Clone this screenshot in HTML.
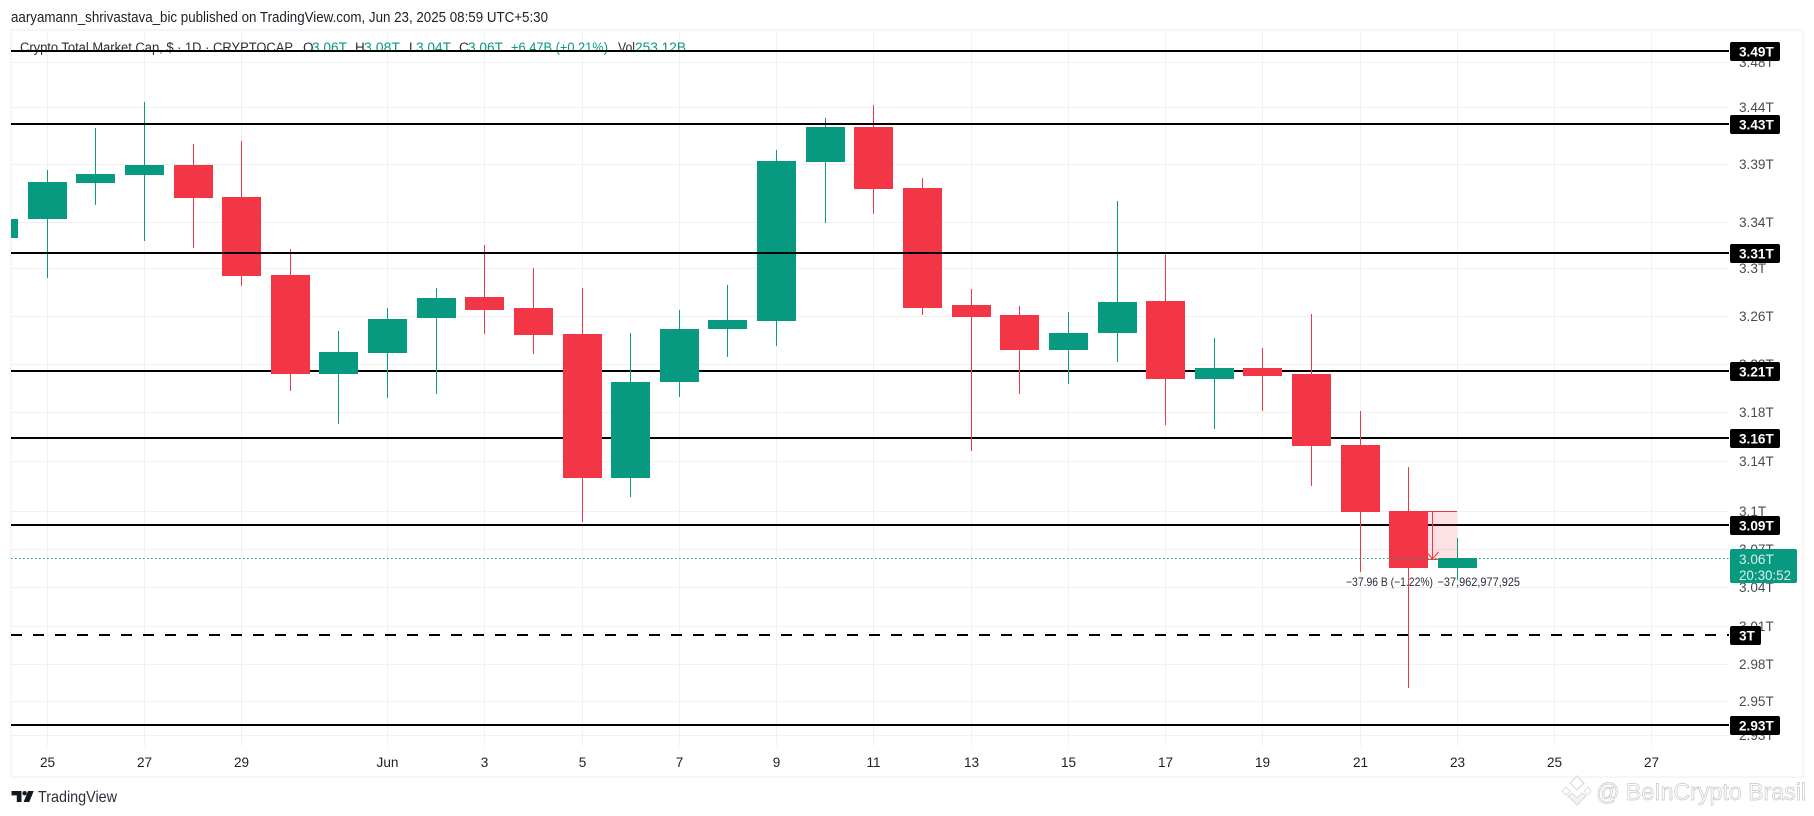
<!DOCTYPE html>
<html lang="en">
<head>
<meta charset="utf-8">
<title>Crypto Total Market Cap chart</title>
<style>
html,body{margin:0;padding:0;background:#fff;width:1814px;height:816px;overflow:hidden}
svg{display:block;font-family:"Liberation Sans",sans-serif}
</style>
</head>
<body>
<svg id="chart" xmlns="http://www.w3.org/2000/svg" width="1814" height="816" viewBox="0 0 1814 816">
  <defs><clipPath id="pane-clip"><rect x="11" y="30" width="1718" height="716"/></clipPath></defs>
  <rect x="0" y="0" width="1814" height="816" fill="#ffffff"/>
  <text x="11" y="22" font-size="14.5" fill="#1c1f28" textLength="537" lengthAdjust="spacingAndGlyphs">aaryamann_shrivastava_bic published on TradingView.com, Jun 23, 2025 08:59 UTC+5:30</text>
  <rect x="11" y="30" width="1792" height="747" fill="none" stroke="#f3f4f6" stroke-width="1.5"/>
  <g id="grid"></g>
  <g id="lower-levels"></g>
  <g id="measure"></g>
  <g id="candles" clip-path="url(#pane-clip)"></g>
  <g id="legend" font-size="13.5">
    <text x="20" y="52" fill="#2a2e39" textLength="273" lengthAdjust="spacingAndGlyphs">Crypto Total Market Cap, $ · 1D · CRYPTOCAP</text>
    <text x="303" y="52" fill="#2a2e39">O</text>
    <text x="312" y="52" fill="#089981" textLength="35" lengthAdjust="spacingAndGlyphs">3.06T</text>
    <text x="355" y="52" fill="#2a2e39">H</text>
    <text x="364" y="52" fill="#089981" textLength="36" lengthAdjust="spacingAndGlyphs">3.08T</text>
    <text x="409" y="52" fill="#2a2e39">L</text>
    <text x="416" y="52" fill="#089981" textLength="35" lengthAdjust="spacingAndGlyphs">3.04T</text>
    <text x="459" y="52" fill="#2a2e39">C</text>
    <text x="468" y="52" fill="#089981" textLength="35" lengthAdjust="spacingAndGlyphs">3.06T</text>
    <text x="511" y="52" fill="#089981" textLength="97" lengthAdjust="spacingAndGlyphs">+6.47B (+0.21%)</text>
    <text x="618" y="52" fill="#2a2e39" textLength="17" lengthAdjust="spacingAndGlyphs">Vol</text>
    <text x="635" y="52" fill="#089981" textLength="51" lengthAdjust="spacingAndGlyphs">253.12B</text>
  </g>
  <g id="upper-levels"></g>
  <g id="axis-y"></g>
  <g id="axis-x"></g>
  <g id="tags"></g>
  <g>
    <path fill="#131722" d="M11.5 791h10v11h-4.7v-6.6h-5.3z"/>
    <circle cx="24.6" cy="793.2" r="2.2" fill="#131722"/>
    <path fill="#131722" d="M28 791h5.7l-4.4 11h-5.7z"/>
    <text x="38" y="802" font-size="16" fill="#2a2e39" textLength="79" lengthAdjust="spacingAndGlyphs">TradingView</text>
  </g>
  <g>
    <path d="M1577 776l7 7-7 7-7-7z" fill="#fff" stroke="#d9d9d9" stroke-width="1.2"/>
    <path d="M1566 787l4 4-4 4-4-4z" fill="#fff" stroke="#dddddd" stroke-width="1"/>
    <path d="M1588 787l3 4-3 4-4-4z" fill="#fff" stroke="#dddddd" stroke-width="1"/>
    <path d="M1577 805l-9-9 4-3 5 5 5-5 4 3z" fill="#f3f3f3" stroke="#d9d9d9" stroke-width="1"/>
    <text x="1596" y="800" font-size="24" fill="#ffffff" stroke="#c6c6c6" stroke-width="0.7" textLength="210" lengthAdjust="spacingAndGlyphs">@ BeInCrypto Brasil</text>
  </g>
</svg>
<script>
// ---- chart data (values in trillions USD) ----
const dates = ['May 24','May 25','May 26','May 27','May 28','May 29','May 30','May 31','Jun 1','Jun 2','Jun 3','Jun 4','Jun 5','Jun 6','Jun 7','Jun 8','Jun 9','Jun 10','Jun 11','Jun 12','Jun 13','Jun 14','Jun 15','Jun 16','Jun 17','Jun 18','Jun 19','Jun 20','Jun 21','Jun 22','Jun 23'];
const opens = [3.3259,3.3423,3.3734,3.3804,3.3890,3.3612,3.2944,3.2115,3.2288,3.2581,3.2757,3.2665,3.2446,3.1266,3.2049,3.2488,3.2556,3.3917,3.4224,3.3690,3.2690,3.2606,3.2313,3.2455,3.2724,3.2074,3.2164,3.2115,3.1533,3.1001,3.0550];
const closes = [3.3423,3.3743,3.3812,3.3890,3.3603,3.2935,3.2115,3.2296,3.2572,3.2748,3.2648,3.2438,3.1266,3.2049,3.2488,3.2564,3.3925,3.4224,3.3682,3.2665,3.2589,3.2313,3.2455,3.2715,3.2074,3.2164,3.2098,3.1525,3.0993,3.0550,3.0628];
const highs = [3.3423,3.3847,3.4215,3.4444,3.4074,3.4100,3.3165,3.2472,3.2665,3.2833,3.3199,3.3003,3.2833,3.2455,3.2648,3.2858,3.4021,3.4303,3.4418,3.3777,3.2825,3.2682,3.2631,3.3577,3.3114,3.2413,3.2330,3.2614,3.1810,3.1355,3.0787];
const lows = [3.3259,3.2918,3.3543,3.3233,3.3173,3.2850,3.1974,3.1704,3.1917,3.1950,3.2446,3.2280,3.0914,3.1113,3.1925,3.2255,3.2346,3.3388,3.3466,3.2606,3.1484,3.1950,3.2032,3.2214,3.1696,3.1663,3.1810,3.1202,3.0518,2.9618,3.0455];
const firstCandleIndex = -1;
const priceTickValues = [3.48,3.44,3.39,3.34,3.30,3.26,3.22,3.18,3.14,3.10,3.07,3.04,3.01,2.98,2.952,2.926];
const priceTickLabels = ['3.48T','3.44T','3.39T','3.34T','3.3T','3.26T','3.22T','3.18T','3.14T','3.1T','3.07T','3.04T','3.01T','2.98T','2.95T','2.93T'];
const timeTickIndexes = [0,2,4,7,9,11,13,15,17,19,21,23,25,27,29,31,33];
const timeTickLabels = ['25','27','29','Jun','3','5','7','9','11','13','15','17','19','21','23','25','27'];
const levelValues = [3.4900,3.4250,3.3130,3.2140,3.1590,3.0890,3.0027,2.9337];
const levelLabels = ['3.49T','3.43T','3.31T','3.21T','3.16T','3.09T','3T','2.93T'];
const levelAboveCandles = [true,true,true,false,false,false,false,false];
const levelDashed = [false,false,false,false,false,false,true,false];
const currentPrice = 3.0628;
const currentLabel = '3.06T';
const countdownLabel = '20:30:52';
const measureFrom = 3.1001;
const measureTo = 3.0620;
const measureStartIndex = 28;
const measureEndIndex = 29;
const measureLabels = ['\u221237.96 B (\u22121.22%)','\u221237,962,977,925'];

// ---- axis functions ----
function xOf(i){ return Math.floor(47.22 + 48.627 * i); }
function yOf(v){ return Math.round(587 - 3883 * Math.log(v / 3.04)); }

const NS = 'http://www.w3.org/2000/svg';
function make(tag, parent, attrs){
  const el = document.createElementNS(NS, tag);
  for (const k in attrs) el.setAttribute(k, attrs[k]);
  parent.appendChild(el);
  return el;
}
const gGrid = document.getElementById('grid');
const gLower = document.getElementById('lower-levels');
const gUpper = document.getElementById('upper-levels');
const gCandles = document.getElementById('candles');
const gMeasure = document.getElementById('measure');
const gAxisY = document.getElementById('axis-y');
const gAxisX = document.getElementById('axis-x');
const gTags = document.getElementById('tags');
const PANE_L = 11, PANE_R = 1729, PANE_T = 30, PANE_B = 746;

// grid + price axis
priceTickValues.forEach(function(v, i){
  const y = yOf(v);
  const g = make('rect', gGrid, {x: PANE_L, y: y, width: PANE_R - PANE_L, height: 1, fill: '#f0f1f3'});
  
  
  const t = make('text', gAxisY, {x: 1739, y: y + 5, 'font-size': 13.6, fill: '#4a4c55'});
  
  
  t.textContent = priceTickLabels[i];
});
// grid + time axis
timeTickIndexes.forEach(function(idx, i){
  const x = xOf(idx);
  const g = make('rect', gGrid, {x: x, y: PANE_T, width: 1, height: PANE_B - PANE_T, fill: '#f0f1f3'});
  
  
  const t = make('text', gAxisX, {x: x + 0.5, y: 767, 'font-size': 13.6, fill: '#1c1f28', 'text-anchor': 'middle'});
  
  
  t.textContent = timeTickLabels[i];
});
// horizontal levels
levelValues.forEach(function(v, i){
  const y = yOf(v);
  const parent = levelAboveCandles[i] ? gUpper : gLower;
  const line = make('line', parent, {x1: PANE_L, x2: PANE_R, y1: y, y2: y, stroke: '#000000', 'stroke-width': 2, 'shape-rendering': 'crispEdges'});
  if (levelDashed[i]) line.setAttribute('stroke-dasharray', '11 11');
  
  
});
// measure tool (behind candles)
(function(){
  const x1 = xOf(measureStartIndex), x2 = xOf(measureEndIndex);
  const yA = yOf(measureFrom), yB = yOf(measureTo);
  const xm = Math.floor((x1 + x2) / 2) + 0.5;
  const r = make('rect', gMeasure, {x: x1, y: yA, width: x2 - x1, height: yB - yA, fill: '#f23645', 'fill-opacity': 0.15});
  
  
  const top = make('rect', gMeasure, {x: x1, y: yA, width: x2 - x1, height: 1, fill: '#f23645'});
  
  
  const bottom = make('rect', gMeasure, {x: x1, y: yB, width: x2 - x1, height: 1, fill: '#f23645'});
  
  
  const shaft = make('rect', gMeasure, {x: xm - 0.5, y: yA, width: 1, height: yB - yA, fill: '#f23645'});
  
  
  const head = make('path', gMeasure, {d: 'M' + (xm - 5) + ' ' + (yB - 6) + 'L' + xm + ' ' + yB + 'L' + (xm + 6) + ' ' + (yB - 7), fill: 'none', stroke: '#f23645', 'stroke-width': 1});
  
  
})();
// candles
opens.forEach(function(o, k){
  const c = closes[k];
  const color = c >= o ? '#089981' : '#f23645';
  const px = xOf(k + firstCandleIndex);
  const yHigh = yOf(highs[k]), yLow = yOf(lows[k]);
  const yTop = yOf(Math.max(o, c)), yBot = yOf(Math.min(o, c));
  const wick = make('rect', gCandles, {x: px, y: yHigh, width: 1, height: yLow - yHigh, fill: color, 'shape-rendering': 'crispEdges'});
  
  
  const body = make('rect', gCandles, {x: px - 19, y: yTop, width: 39, height: yBot - yTop, fill: color, 'shape-rendering': 'crispEdges'});
  
  
});
// current price line
(function(){
  const y = yOf(currentPrice);
  const line = make('line', gUpper, {x1: PANE_L, x2: PANE_R, y1: y + 0.5, y2: y + 0.5, stroke: '#089981', 'stroke-width': 1, 'stroke-dasharray': '1.5 2.5'});
  
  
})();
// measure labels
(function(){
  const y = yOf(measureTo) + 27;
  const a = make('text', gUpper, {x: 1346, y: y, 'font-size': 12, fill: '#2a2e39', textLength: 87, lengthAdjust: 'spacingAndGlyphs'});
  
  
  a.textContent = measureLabels[0];
  const b = make('text', gUpper, {x: 1437.5, y: y, 'font-size': 12, fill: '#2a2e39', textLength: 82.5, lengthAdjust: 'spacingAndGlyphs'});
  
  
  b.textContent = measureLabels[1];
})();
// level tags on price axis
levelValues.forEach(function(v, i){
  const y = yOf(v);
  const w = levelLabels[i].length > 2 ? 50 : 31;
  const r = make('rect', gTags, {x: 1730, y: y - 9, width: w, height: 19, rx: 2, fill: '#000000'});
  
  
  const t = make('text', gTags, {x: 1739, y: y + 5.5, 'font-size': 13.6, 'font-weight': 'bold', fill: '#ffffff'});
  
  
  t.textContent = levelLabels[i];
});
// current price tag
(function(){
  const y = yOf(currentPrice);
  const r = make('rect', gTags, {x: 1730, y: y - 9, width: 67, height: 34, rx: 2, fill: '#089981'});
  
  
  const t = make('text', gTags, {x: 1739, y: y + 6, 'font-size': 13.6, fill: '#d5efe8'});
  
  
  t.textContent = currentLabel;
  const t2 = make('text', gTags, {x: 1739, y: y + 22, 'font-size': 13.6, fill: '#d5efe8', textLength: 52, lengthAdjust: 'spacingAndGlyphs'});
  
  
  t2.textContent = countdownLabel;
})();
</script>
</body>
</html>
